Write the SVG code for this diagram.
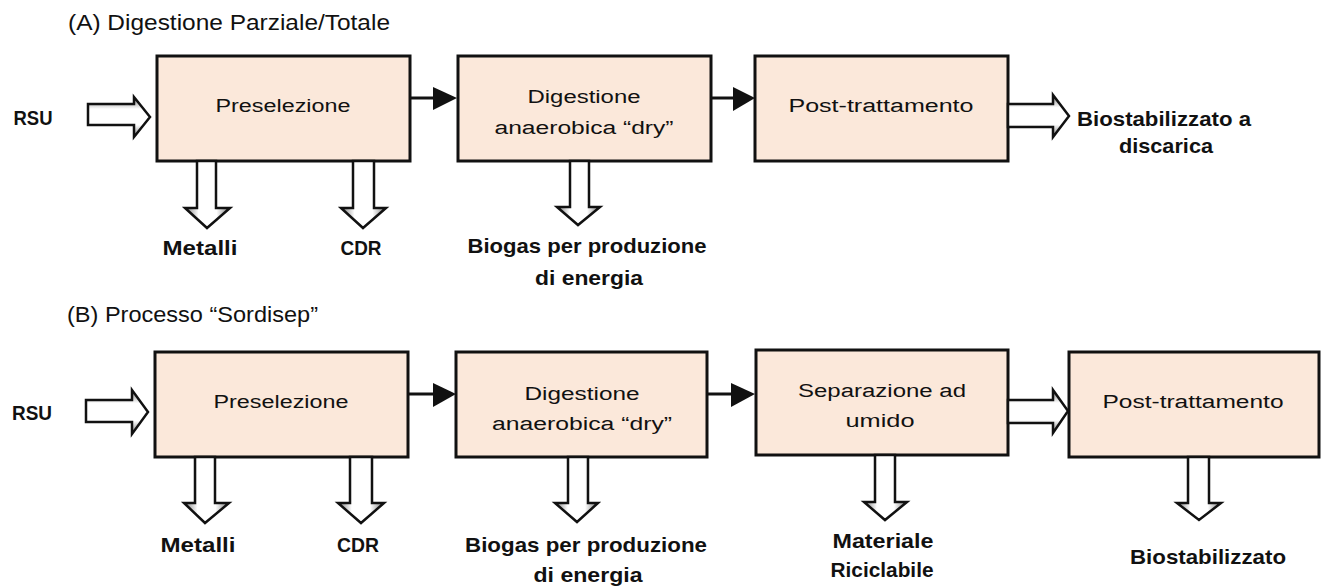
<svg xmlns="http://www.w3.org/2000/svg" width="1323" height="588" viewBox="0 0 1323 588">
  <style>
    .box { fill: #FBE8DA; stroke: #111; stroke-width: 3; }
    .lbl { font-family: "Liberation Sans", Arial, sans-serif; font-size: 18px; fill: #111; text-anchor: middle; }
    .out { font-family: "Liberation Sans", Arial, sans-serif; font-size: 21px; font-weight: bold; fill: #111; text-anchor: middle; }
    .ttl { font-family: "Liberation Sans", Arial, sans-serif; font-size: 22px; fill: #111; }
    .hollow-h { fill: url(#gradH); stroke: #111; stroke-width: 2.5; stroke-linejoin: miter; }
    .hollow-v { fill: url(#gradV); stroke: #111; stroke-width: 2.5; stroke-linejoin: miter; }
    .link { stroke: #111; stroke-width: 3; fill: none; }
    .head { fill: #111; }
  </style>
  <defs>
    <linearGradient id="gradH" x1="0" y1="0" x2="0" y2="1">
      <stop offset="0" stop-color="#7a7a7a"/>
      <stop offset="0.3" stop-color="#ffffff"/>
      <stop offset="0.7" stop-color="#ffffff"/>
      <stop offset="1" stop-color="#7a7a7a"/>
    </linearGradient>
    <linearGradient id="gradV" x1="0" y1="0" x2="1" y2="0">
      <stop offset="0" stop-color="#7a7a7a"/>
      <stop offset="0.3" stop-color="#ffffff"/>
      <stop offset="0.7" stop-color="#ffffff"/>
      <stop offset="1" stop-color="#7a7a7a"/>
    </linearGradient>
  </defs>
  <rect width="1323" height="588" fill="#fff"/>

  <!-- Section titles -->
  <text class="ttl" x="68" y="30" textLength="322" lengthAdjust="spacingAndGlyphs">(A) Digestione Parziale/Totale</text>
  <text class="ttl" x="67" y="322" textLength="251" lengthAdjust="spacingAndGlyphs">(B) Processo “Sordisep”</text>

  <!-- Row A nodes -->
  <g id="a-rsu">
    <text class="out" x="33" y="125" textLength="39" lengthAdjust="spacingAndGlyphs">RSU</text>
  </g>
  <g id="a-preselezione">
    <rect class="box" x="157" y="56" width="253" height="105"/>
    <text class="lbl" x="283" y="112" textLength="135" lengthAdjust="spacingAndGlyphs">Preselezione</text>
  </g>
  <g id="a-digestione">
    <rect class="box" x="458" y="56" width="253" height="105"/>
    <text class="lbl" x="584" y="103" textLength="113" lengthAdjust="spacingAndGlyphs">Digestione</text>
    <text class="lbl" x="584" y="134" textLength="179" lengthAdjust="spacingAndGlyphs">anaerobica “dry”</text>
  </g>
  <g id="a-post">
    <rect class="box" x="755" y="56" width="253" height="105"/>
    <text class="lbl" x="881" y="112" textLength="185" lengthAdjust="spacingAndGlyphs">Post-trattamento</text>
  </g>
  <g id="a-metalli">
    <text class="out" x="200" y="255" textLength="75" lengthAdjust="spacingAndGlyphs">Metalli</text>
  </g>
  <g id="a-cdr">
    <text class="out" x="361" y="255" textLength="41" lengthAdjust="spacingAndGlyphs">CDR</text>
  </g>
  <g id="a-biogas">
    <text class="out" x="587" y="253" textLength="239" lengthAdjust="spacingAndGlyphs">Biogas per produzione</text>
    <text class="out" x="589" y="285" textLength="108" lengthAdjust="spacingAndGlyphs">di energia</text>
  </g>
  <g id="a-biostabilizzato">
    <text class="out" x="1164" y="126" textLength="174" lengthAdjust="spacingAndGlyphs">Biostabilizzato a</text>
    <text class="out" x="1166" y="153" textLength="94" lengthAdjust="spacingAndGlyphs">discarica</text>
  </g>

  <!-- Row B nodes -->
  <g id="b-rsu">
    <text class="out" x="32" y="420" textLength="40" lengthAdjust="spacingAndGlyphs">RSU</text>
  </g>
  <g id="b-preselezione">
    <rect class="box" x="155" y="352" width="253" height="105"/>
    <text class="lbl" x="281" y="408" textLength="135" lengthAdjust="spacingAndGlyphs">Preselezione</text>
  </g>
  <g id="b-digestione">
    <rect class="box" x="456" y="352" width="251" height="105"/>
    <text class="lbl" x="582" y="400" textLength="115" lengthAdjust="spacingAndGlyphs">Digestione</text>
    <text class="lbl" x="582" y="430" textLength="180" lengthAdjust="spacingAndGlyphs">anaerobica “dry”</text>
  </g>
  <g id="b-separazione">
    <rect class="box" x="756" y="350" width="252" height="105"/>
    <text class="lbl" x="882" y="397" textLength="168" lengthAdjust="spacingAndGlyphs">Separazione ad</text>
    <text class="lbl" x="880" y="427" textLength="69" lengthAdjust="spacingAndGlyphs">umido</text>
  </g>
  <g id="b-post">
    <rect class="box" x="1069" y="352" width="250" height="105"/>
    <text class="lbl" x="1193" y="408" textLength="181" lengthAdjust="spacingAndGlyphs">Post-trattamento</text>
  </g>
  <g id="b-metalli">
    <text class="out" x="198" y="552" textLength="75" lengthAdjust="spacingAndGlyphs">Metalli</text>
  </g>
  <g id="b-cdr">
    <text class="out" x="358" y="552" textLength="42" lengthAdjust="spacingAndGlyphs">CDR</text>
  </g>
  <g id="b-biogas">
    <text class="out" x="586" y="552" textLength="242" lengthAdjust="spacingAndGlyphs">Biogas per produzione</text>
    <text class="out" x="588" y="582" textLength="109" lengthAdjust="spacingAndGlyphs">di energia</text>
  </g>
  <g id="b-materiale">
    <text class="out" x="883" y="548" textLength="101" lengthAdjust="spacingAndGlyphs">Materiale</text>
    <text class="out" x="882" y="577" textLength="103" lengthAdjust="spacingAndGlyphs">Riciclabile</text>
  </g>
  <g id="b-biostabilizzato">
    <text class="out" x="1208" y="564" textLength="156" lengthAdjust="spacingAndGlyphs">Biostabilizzato</text>
  </g>

  <!-- Connectors -->
  <g id="connectors">
    <!-- row A -->
    <path class="hollow-h" d="M88 104 H134 V97 L150 117 L134 137 V125 H88 Z"/>
    <line class="link" x1="410" y1="98" x2="435" y2="98"/>
    <polygon class="head" points="433,87 457,98 433,110"/>
    <line class="link" x1="711" y1="98" x2="735" y2="98"/>
    <polygon class="head" points="733,87 755,98 733,111"/>
    <path class="hollow-h" d="M1008 104 H1053 V95 L1069 116 L1053 137 V127 H1008 Z"/>
    <path class="hollow-v" d="M197 161 V208 H185 L207 228 L230 208 H216 V161 Z"/>
    <path class="hollow-v" d="M353 161 V208 H341 L363 228 L386 208 H374 V161 Z"/>
    <path class="hollow-v" d="M570 161 V207 H557 L578 225 L600 207 H589 V161 Z"/>

    <!-- row B -->
    <path class="hollow-h" d="M86 400 H132 V390 L148 412 L132 434 V422 H86 Z"/>
    <line class="link" x1="408" y1="394" x2="435" y2="394"/>
    <polygon class="head" points="433,383 456,394 433,407"/>
    <line class="link" x1="707" y1="394" x2="733" y2="394"/>
    <polygon class="head" points="731,383 755,394 731,407"/>
    <path class="hollow-h" d="M1008 400 H1053 V390 L1068 411 L1053 433 V423 H1008 Z"/>
    <path class="hollow-v" d="M195 457 V503 H184 L205 523 L229 503 H215 V457 Z"/>
    <path class="hollow-v" d="M350 457 V503 H338 L361 523 L384 503 H372 V457 Z"/>
    <path class="hollow-v" d="M568 457 V503 H555 L577 522 L598 503 H588 V457 Z"/>
    <path class="hollow-v" d="M875 455 V502 H864 L885 520 L907 502 H895 V455 Z"/>
    <path class="hollow-v" d="M1188 457 V503 H1177 L1199 520 L1221 503 H1209 V457 Z"/>
  </g>
</svg>
